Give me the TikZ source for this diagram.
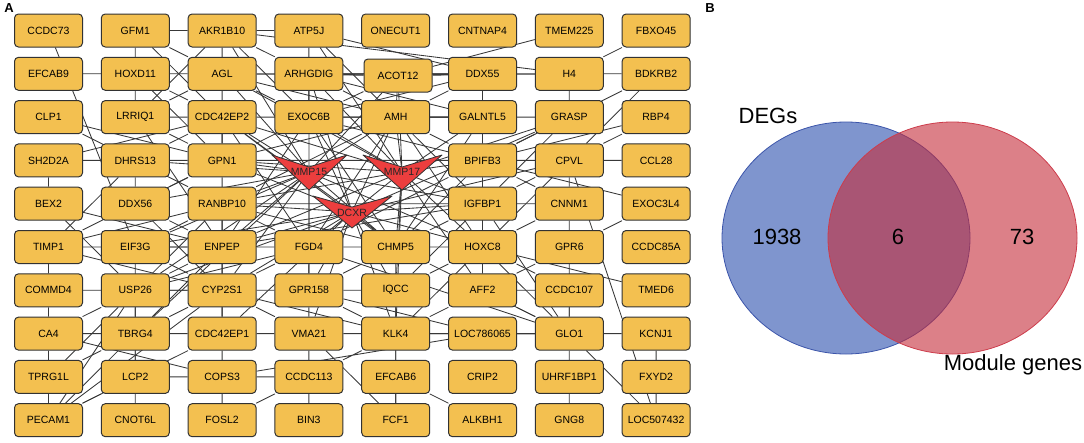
\documentclass[tikz,border=0pt]{standalone}
\usepackage{fontspec}
\setmainfont{Liberation Sans}
\usetikzlibrary{backgrounds}
\definecolor{genefill}{RGB}{243,192,80}
\definecolor{geneline}{RGB}{50,50,50}
\definecolor{hubfill}{RGB}{236,62,62}
\definecolor{degfill}{RGB}{127,149,206}
\definecolor{degline}{RGB}{60,85,170}
\definecolor{modfill}{RGB}{197,43,57}
\definecolor{modline}{RGB}{205,60,75}
\begin{document}
\begin{tikzpicture}[x=1pt,y=-1pt,line join=round,
	gene/.style={draw=geneline,fill=genefill,rounded corners=4pt,minimum width=68pt,minimum height=33pt,inner sep=0pt,line width=1pt,font=\fontsize{10.5}{12}\selectfont},
	hub/.style={draw=geneline,fill=hubfill,line width=0.8pt},
	hublabel/.style={inner sep=0pt,text=black!85,font=\fontsize{10.5}{12}\selectfont},
	link/.style={draw=black!78,line width=0.85pt},
	big/.style={inner sep=0pt,font=\fontsize{22}{26}\selectfont}]
	\useasboundingbox (0,0) rectangle (1084,442);
	\node[inner sep=0pt,font=\bfseries\fontsize{13}{14}\selectfont] (labA) at (9,8) {A};
	\node[inner sep=0pt,font=\bfseries\fontsize{13}{14}\selectfont] (labB) at (710,8) {B};
	\foreach \c/\g in {1/CCDC73,2/GFM1,3/AKR1B10,4/ATP5J,5/ONECUT1,6/CNTNAP4,7/TMEM225,8/FBXO45} \node[gene] (\g) at ({48.5+86.8*(\c-1)},30.5) {\g};
	\foreach \c/\g in {1/EFCAB9,2/HOXD11,3/AGL,4/ARHGDIG,6/DDX55,7/H4,8/BDKRB2} \node[gene] (\g) at ({48.5+86.8*(\c-1)},73.8) {\g};
	\node[gene] (ACOT12) at (398,75.5) {ACOT12};
	\foreach \c/\g in {1/CLP1,2/LRRIQ1,3/CDC42EP2,4/EXOC6B,5/AMH,6/GALNTL5,7/GRASP,8/RBP4} \node[gene] (\g) at ({48.5+86.8*(\c-1)},117.1) {\g};
	\foreach \c/\g in {1/SH2D2A,2/DHRS13,3/GPN1,6/BPIFB3,7/CPVL,8/CCL28} \node[gene] (\g) at ({48.5+86.8*(\c-1)},160.4) {\g};
	\foreach \c/\g in {1/BEX2,2/DDX56,3/RANBP10,6/IGFBP1,7/CNNM1,8/EXOC3L4} \node[gene] (\g) at ({48.5+86.8*(\c-1)},203.7) {\g};
	\foreach \c/\g in {1/TIMP1,2/EIF3G,3/ENPEP,4/FGD4,5/CHMP5,6/HOXC8,7/GPR6,8/CCDC85A} \node[gene] (\g) at ({48.5+86.8*(\c-1)},247) {\g};
	\foreach \c/\g in {1/COMMD4,2/USP26,3/CYP2S1,4/GPR158,5/IQCC,6/AFF2,7/CCDC107,8/TMED6} \node[gene] (\g) at ({48.5+86.8*(\c-1)},290.3) {\g};
	\foreach \c/\g in {1/CA4,2/TBRG4,3/CDC42EP1,4/VMA21,5/KLK4,6/LOC786065,7/GLO1,8/KCNJ1} \node[gene] (\g) at ({48.5+86.8*(\c-1)},333.6) {\g};
	\foreach \c/\g in {1/TPRG1L,2/LCP2,3/COPS3,4/CCDC113,5/EFCAB6,6/CRIP2,7/UHRF1BP1,8/FXYD2} \node[gene] (\g) at ({48.5+86.8*(\c-1)},376.9) {\g};
	\foreach \c/\g in {1/PECAM1,2/CNOT6L,3/FOSL2,4/BIN3,5/FCF1,6/ALKBH1,7/GNG8,8/LOC507432} \node[gene] (\g) at ({48.5+86.8*(\c-1)},420.2) {\g};
	\draw[hub] (272,155)--(309,167)--(347,155)--(309,190)--cycle;
	\draw[hub] (363,155)--(402,167)--(442,155)--(402,190)--cycle;
	\draw[hub] (313,196)--(352,207)--(392,196)--(352,228)--cycle;
	\coordinate (MMP15) at (309,172);
	\coordinate (MMP17) at (402,172);
	\coordinate (DCXR) at (352,212);
	\node[hublabel] (MMP15text) at (309,172) {MMP15};
	\node[hublabel] (MMP17text) at (402,172) {MMP17};
	\node[hublabel] (DCXRtext) at (352,213) {DCXR};
	\begin{scope}[on background layer]
	\draw[link] (CCDC73)--(EIF3G) (EFCAB9)--(HOXD11) (GFM1)--(HOXD11) (GFM1)--(AKR1B10) (GFM1)--(AGL) (GFM1)--(CDC42EP2);
	\draw[link] (HOXD11)--(LRRIQ1) (HOXD11)--(AGL) (HOXD11)--(CDC42EP2) (HOXD11)--(GPN1);
	\draw[link] (LRRIQ1)--(AGL) (LRRIQ1)--(CDC42EP2) (LRRIQ1)--(AKR1B10) (LRRIQ1)--(GPN1) (LRRIQ1)--(ENPEP);
	\draw[link] (CLP1)--(GPN1) (CLP1)--(RANBP10) (SH2D2A)--(DHRS13) (SH2D2A)--(CDC42EP2) (SH2D2A)--(BEX2);
	\draw[link] (DHRS13)--(DDX56) (DHRS13)--(GPN1) (DHRS13)--(MMP15) (DHRS13)--(CDC42EP2) (DHRS13)--(TIMP1);
	\draw[link] (BEX2)--(ENPEP) (BEX2)--(USP26) (DDX56)--(MMP15) (DDX56)--(ENPEP) (DDX56)--(CYP2S1) (DDX56)--(GPN1);
	\draw[link] (GPN1)--(MMP15) (GPN1)--(DCXR) (GPN1)--(MMP17) (GPN1)--(CDC42EP2) (GPN1)--(BPIFB3);
	\draw[link] (RANBP10)--(MMP15) (RANBP10)--(DCXR) (RANBP10)--(IGFBP1) (RANBP10)--(MMP17) (RANBP10)--(ENPEP) (RANBP10)--(FGD4) (RANBP10)--(USP26) (RANBP10)--(CHMP5);
	\draw[link] (CDC42EP2)--(MMP15) (CDC42EP2)--(DCXR) (CDC42EP2)--(MMP17) (CDC42EP2)--(EXOC6B) (CDC42EP2)--(FGD4) (CDC42EP2)--(CHMP5) (CDC42EP2)--(AMH) (CDC42EP2)--(GALNTL5);
	\draw[link] (AGL)--(ARHGDIG) (AGL)--(EXOC6B) (AGL)--(DDX55) (AGL)--(MMP15) (AGL)--(MMP17) (AGL)--(AMH) (AGL)--(ACOT12);
	\draw[link] (AKR1B10)--(AGL) (AKR1B10)--(CDC42EP2) (AKR1B10)--(GPN1) (AKR1B10)--(EXOC6B) (AKR1B10)--(H4) (AKR1B10)--(ATP5J) (AKR1B10)--(MMP15) (AKR1B10)--(ARHGDIG);
	\draw[link] (ATP5J)--(ARHGDIG) (ATP5J)--(AMH) (ATP5J)--(EXOC6B) (ATP5J)--(DDX55) (ATP5J)--(MMP17);
	\draw[link] (TMEM225)--(ACOT12) (FBXO45)--(H4) (H4)--(BDKRB2) (H4)--(GRASP) (H4)--(DDX55) (H4)--(ACOT12);
	\draw[link] (BDKRB2)--(GRASP) (BDKRB2)--(CPVL) (BDKRB2)--(BPIFB3) (RBP4)--(CPVL) (RBP4)--(BPIFB3);
	\draw[link] (GRASP)--(GALNTL5) (GRASP)--(BPIFB3) (GRASP)--(IGFBP1) (GRASP)--(MMP17) (GRASP)--(DCXR) (GRASP)--(AMH);
	\draw[link] (GALNTL5)--(DDX55) (GALNTL5)--(AMH) (GALNTL5)--(MMP17) (GALNTL5)--(BPIFB3) (GALNTL5)--(CHMP5);
	\draw[link] (DDX55)--(ACOT12) (DDX55)--(ARHGDIG) (DDX55)--(BPIFB3) (DDX55)--(AMH) (DDX55)--(EXOC6B);
	\draw[link] (ACOT12)--(ARHGDIG) (ACOT12)--(AMH) (ACOT12)--(MMP17) (ACOT12)--(MMP15) (ACOT12)--(EXOC6B);
	\draw[link] (ARHGDIG)--(EXOC6B) (ARHGDIG)--(AMH) (ARHGDIG)--(MMP17) (ARHGDIG)--(GALNTL5) (ARHGDIG)--(DCXR);
	\draw[link] (EXOC6B)--(AMH) (EXOC6B)--(MMP15) (EXOC6B)--(MMP17) (EXOC6B)--(DCXR) (EXOC6B)--(GPN1) (EXOC6B)--(ENPEP) (EXOC6B)--(CHMP5) (EXOC6B)--(BPIFB3);
	\draw[link] (AMH)--(MMP15) (AMH)--(MMP17) (AMH)--(DCXR) (AMH)--(FGD4) (AMH)--(HOXC8) (AMH)--(BPIFB3) (AMH)--(IGFBP1) (AMH)--(RANBP10) (AMH)--(GPN1);
	\draw[link] (BPIFB3)--(CPVL) (BPIFB3)--(MMP17) (BPIFB3)--(IGFBP1) (BPIFB3)--(CNNM1) (BPIFB3)--(EXOC3L4) (BPIFB3)--(HOXC8) (BPIFB3)--(FGD4) (BPIFB3)--(CHMP5);
	\draw[link] (CPVL)--(CCL28) (CPVL)--(CNNM1) (CPVL)--(IGFBP1) (CPVL)--(LOC507432) (CPVL)--(HOXC8) (CPVL)--(DCXR);
	\draw[link] (IGFBP1)--(MMP17) (IGFBP1)--(DCXR) (IGFBP1)--(MMP15) (IGFBP1)--(CNNM1) (IGFBP1)--(HOXC8) (IGFBP1)--(CHMP5) (IGFBP1)--(GLO1) (IGFBP1)--(AFF2) (IGFBP1)--(IQCC);
	\draw[link] (CNNM1)--(GPR6) (CNNM1)--(HOXC8) (EXOC3L4)--(GPR6);
	\draw[link] (TIMP1)--(COMMD4) (TIMP1)--(ENPEP) (TIMP1)--(RANBP10) (TIMP1)--(CYP2S1) (TIMP1)--(GPN1);
	\draw[link] (EIF3G)--(ENPEP) (EIF3G)--(RANBP10) (EIF3G)--(MMP15) (EIF3G)--(DCXR) (EIF3G)--(TBRG4) (EIF3G)--(CYP2S1);
	\draw[link] (ENPEP)--(MMP15) (ENPEP)--(DCXR) (ENPEP)--(MMP17) (ENPEP)--(FGD4) (ENPEP)--(USP26) (ENPEP)--(CYP2S1) (ENPEP)--(TBRG4) (ENPEP)--(IGFBP1) (ENPEP)--(GPN1);
	\draw[link] (FGD4)--(MMP15) (FGD4)--(DCXR) (FGD4)--(GPR158) (FGD4)--(CHMP5) (FGD4)--(MMP17) (FGD4)--(USP26) (FGD4)--(GLO1) (FGD4)--(CYP2S1);
	\draw[link] (CHMP5)--(IQCC) (CHMP5)--(HOXC8) (CHMP5)--(MMP17) (CHMP5)--(DCXR) (CHMP5)--(MMP15) (CHMP5)--(GLO1) (CHMP5)--(KLK4) (CHMP5)--(GPR158);
	\draw[link] (HOXC8)--(TMED6) (HOXC8)--(GLO1) (HOXC8)--(AFF2) (HOXC8)--(CCDC107) (HOXC8)--(IQCC) (HOXC8)--(MMP17) (HOXC8)--(DCXR) (HOXC8)--(MMP15) (HOXC8)--(KLK4);
	\draw[link] (GPR6)--(AFF2) (GPR6)--(GLO1) (COMMD4)--(USP26) (COMMD4)--(CYP2S1) (COMMD4)--(CA4);
	\draw[link] (USP26)--(CYP2S1) (USP26)--(TBRG4) (USP26)--(CA4) (USP26)--(MMP15) (USP26)--(DCXR) (USP26)--(TPRG1L);
	\draw[link] (CYP2S1)--(TBRG4) (CYP2S1)--(MMP15) (CYP2S1)--(DCXR) (CYP2S1)--(VMA21) (CYP2S1)--(CDC42EP1) (CYP2S1)--(KLK4) (CYP2S1)--(GPR158) (CYP2S1)--(PECAM1);
	\draw[link] (GPR158)--(VMA21) (GPR158)--(DCXR) (GPR158)--(MMP15) (GPR158)--(KLK4) (GPR158)--(LOC786065) (GPR158)--(IQCC);
	\draw[link] (IQCC)--(KLK4) (IQCC)--(DCXR) (IQCC)--(MMP17) (IQCC)--(EFCAB6) (IQCC)--(FCF1);
	\draw[link] (AFF2)--(GLO1) (AFF2)--(KLK4) (AFF2)--(CCDC107) (AFF2)--(MMP17) (CCDC107)--(GLO1);
	\draw[link] (CA4)--(TBRG4) (CA4)--(COPS3) (CA4)--(TPRG1L) (TBRG4)--(CDC42EP1) (TBRG4)--(LCP2) (TBRG4)--(TPRG1L) (TBRG4)--(MMP15);
	\draw[link] (CDC42EP1)--(VMA21) (CDC42EP1)--(COPS3) (CDC42EP1)--(LCP2) (CDC42EP1)--(PECAM1) (CDC42EP1)--(DCXR) (CDC42EP1)--(ENPEP);
	\draw[link] (VMA21)--(CCDC113) (VMA21)--(KLK4) (VMA21)--(FCF1) (VMA21)--(DCXR) (VMA21)--(GLO1);
	\draw[link] (KLK4)--(LOC786065) (KLK4)--(EFCAB6) (KLK4)--(FCF1) (KLK4)--(MMP17) (KLK4)--(DCXR) (KLK4)--(GLO1);
	\draw[link] (LOC786065)--(GLO1) (LOC786065)--(KCNJ1) (GLO1)--(KCNJ1) (GLO1)--(UHRF1BP1) (GLO1)--(LOC507432) (KCNJ1)--(FXYD2);
	\draw[link] (TPRG1L)--(PECAM1) (PECAM1)--(LCP2) (PECAM1)--(TBRG4) (PECAM1)--(USP26) (LCP2)--(CNOT6L) (LCP2)--(COPS3) (LCP2)--(USP26);
	\draw[link] (COPS3)--(FOSL2) (COPS3)--(CCDC113) (COPS3)--(LOC786065) (CCDC113)--(BIN3) (CCDC113)--(FOSL2) (CCDC113)--(KLK4);
	\draw[link] (EFCAB6)--(FCF1) (EFCAB6)--(ALKBH1) (UHRF1BP1)--(GNG8) (FXYD2)--(LOC507432);
	\end{scope}
	\draw[degline,fill=degfill,line width=0.8pt] (846,238) ellipse [x radius=124pt,y radius=116pt];
	\draw[modline,fill=modfill,fill opacity=0.6,line width=0.8pt] (952.5,238) ellipse [x radius=124.5pt,y radius=116pt];
	\node[big] (degs) at (768,116) {DEGs};
	\node[big] (onlydeg) at (777,237) {1938};
	\node[big] (both) at (898,237) {6};
	\node[big] (onlymod) at (1022,237) {73};
	\node[big] (modgenes) at (1013,365) {Module genes};
\end{tikzpicture}
\end{document}
